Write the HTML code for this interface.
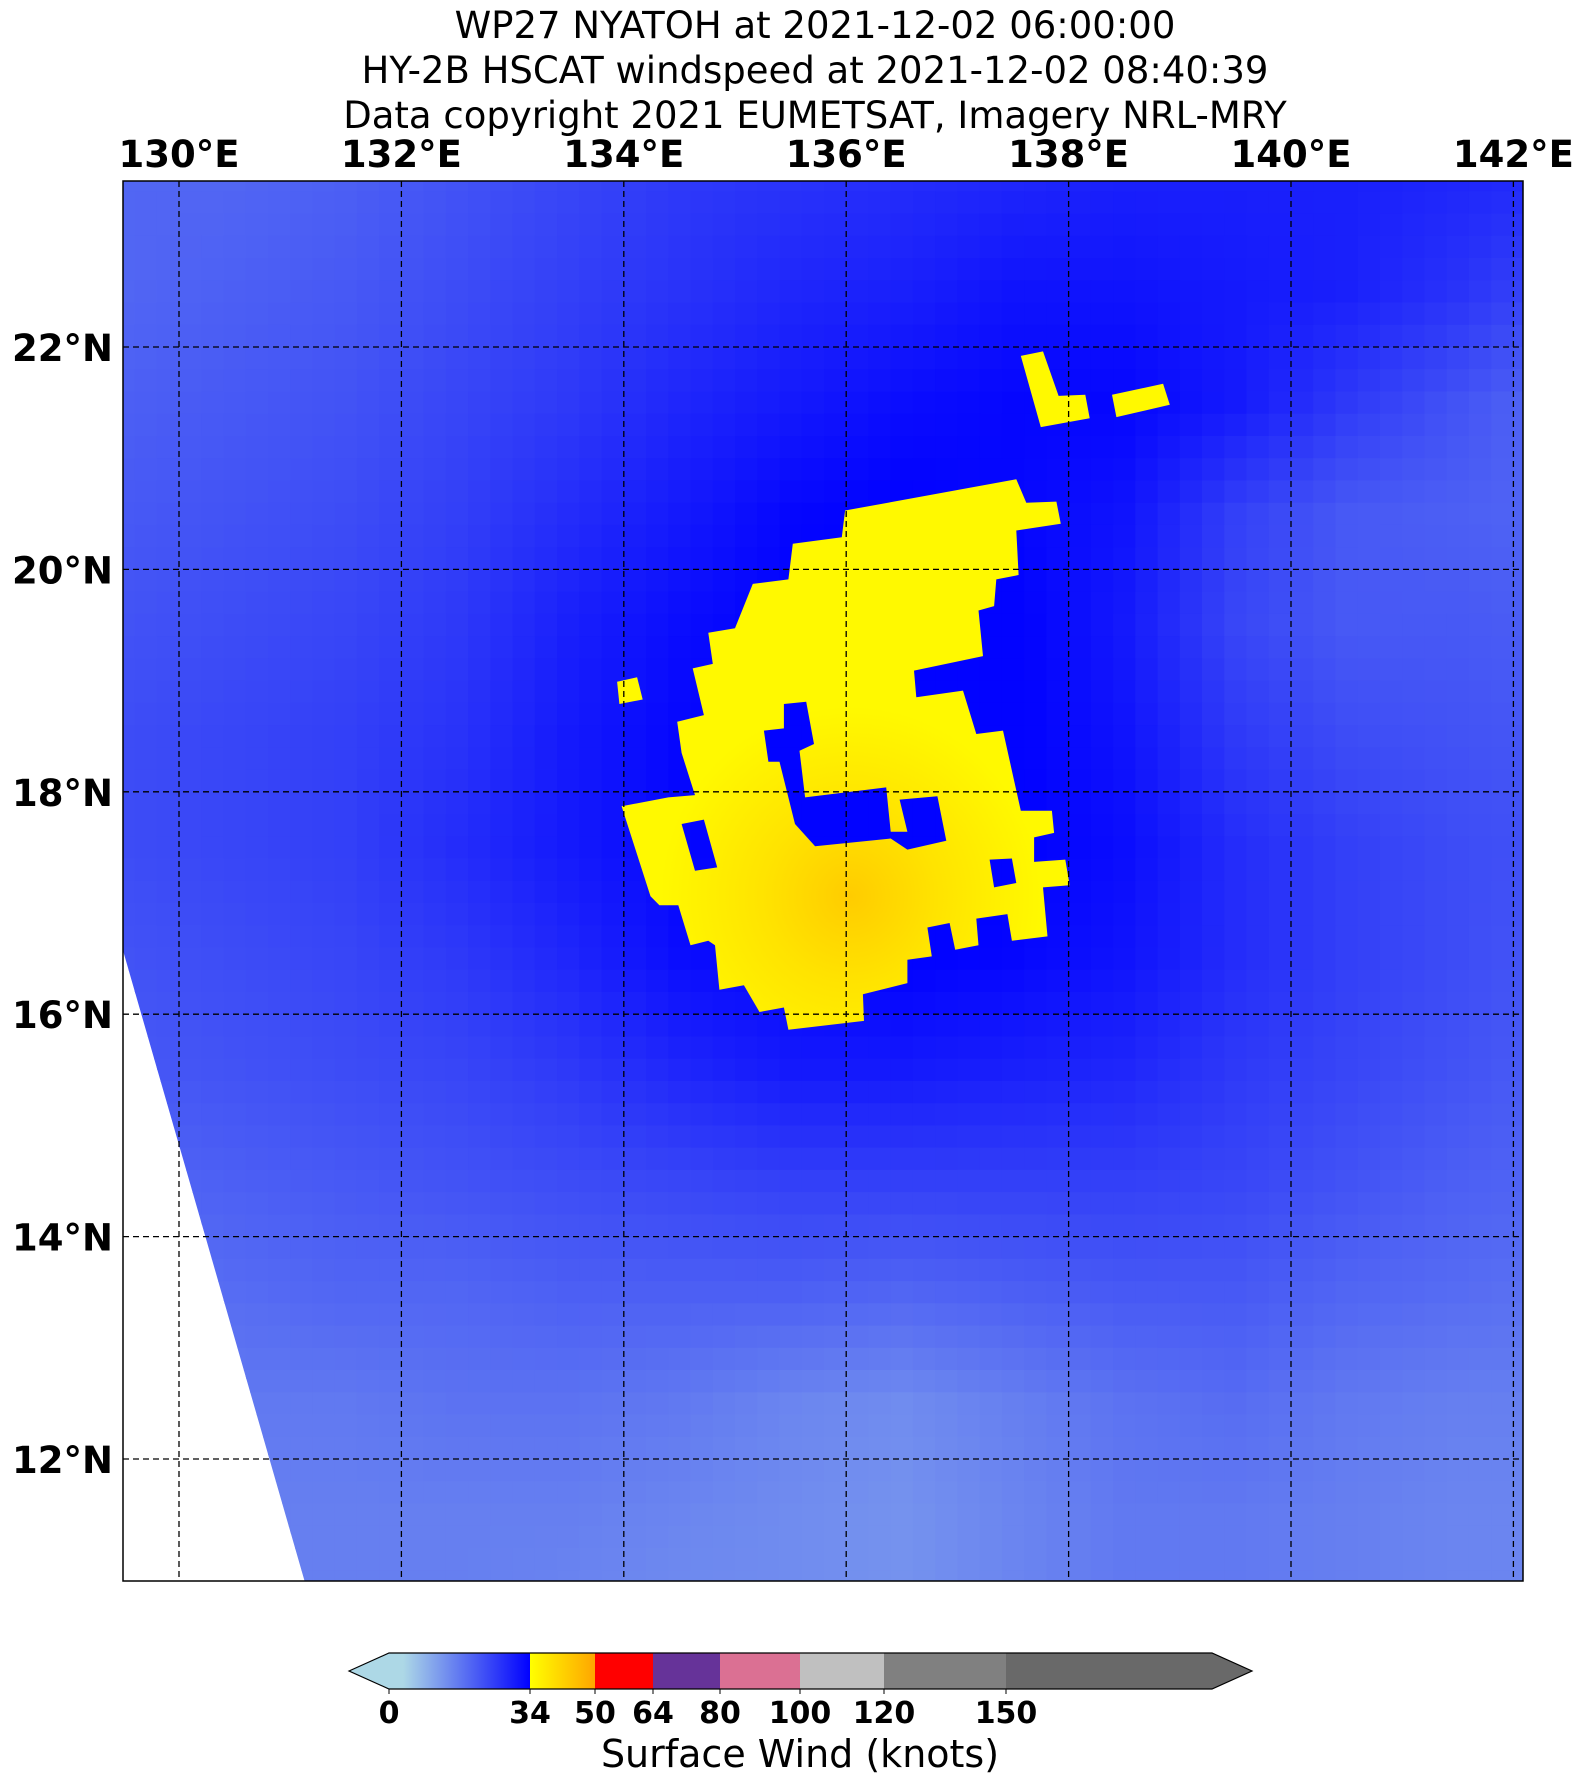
<!DOCTYPE html>
<html><head><meta charset="utf-8">
<style>
html,body{margin:0;padding:0;background:#fff;}
body{width:1585px;height:1784px;overflow:hidden;font-family:"DejaVu Sans","Liberation Sans",sans-serif;}
svg text{font-family:"DejaVu Sans","Liberation Sans",sans-serif;}
</style></head>
<body>
<svg id="chart" width="1585" height="1784" viewBox="0 0 1585 1784" xmlns="http://www.w3.org/2000/svg">
  <g font-size="37" text-anchor="middle" fill="#000">
    <text x="815" y="38">WP27 NYATOH at 2021-12-02 06:00:00</text>
    <text x="815" y="83">HY-2B HSCAT windspeed at 2021-12-02 08:40:39</text>
    <text x="815" y="128">Data copyright 2021 EUMETSAT, Imagery NRL-MRY</text>
  </g>
  <defs>
    <clipPath id="plotClip"><rect x="123" y="181" width="1400" height="1400"/></clipPath>
  </defs>
  <g id="field" clip-path="url(#plotClip)"></g>
  <g id="grid"></g>
  <rect x="123" y="181" width="1400" height="1400" fill="none" stroke="#000" stroke-width="1.5"/>
  <g id="xlabels" font-size="37" font-weight="bold" text-anchor="middle"></g>
  <g id="ylabels" font-size="37" font-weight="bold" text-anchor="end"></g>
  <g id="colorbar"></g>
  <text x="800" y="1767" font-size="38" text-anchor="middle">Surface Wind (knots)</text>
</svg>
<script>
// ---- data ----
const lonTicks = [130,132,134,136,138,140,142];
const latTicks = [12,14,16,18,20,22];
const gridLons = [129.5,130.5,131.5,132.5,133.5,134.5,135.5,136.5,137.5,138.5,139.5,140.5,141.5,142.5];
const gridLats = [23.5,22.5,21.5,20.5,19.5,18.5,17.5,16.5,15.5,14.5,13.5,12.5,11.5,10.5];
const windGrid = [
 [18,18,19,21,23,25,26,27,28,29,29,29,28,27],
 [18,19,20,22,24,26,28,29,31,31,30,29,26,22],
 [19,20,21,23,25,28,30,32,33,33,30,25,21,17],
 [20,21,22,24,27,30,33,34,33,31,24,20,19,18],
 [21,22,23,25,29,32,34,34,34,30,23,20,20,19],
 [22,23,24,26,30,33,34,34,34,31,25,22,21,20],
 [22,23,24,27,30,33,34,34,34,32,27,24,22,21],
 [21,22,23,25,28,32,33,34,33,31,27,24,22,20],
 [20,21,22,23,25,28,30,30,29,28,25,23,21,19],
 [18,19,20,21,22,23,24,24,24,24,23,21,19,18],
 [16,17,18,18,19,19,19,18,19,20,20,18,17,16],
 [15,15,15,16,16,15,13,12,14,16,17,15,14,14],
 [14,14,14,14,14,13,12,11,13,15,15,14,13,13],
 [14,14,14,14,13,12,12,11,13,15,15,14,13,13]
];
const swathEdge = [[129.5,16.56],[131.13,10.9]];
const galeMain = [[135.99,20.53],[137.53,20.81],[137.62,20.60],[137.89,20.61],[137.93,20.41],[137.53,20.35],[137.55,19.95],[137.35,19.91],[137.33,19.67],[137.19,19.63],[137.23,19.22],[136.61,19.09],[136.63,18.85],[137.05,18.91],[137.17,18.52],[137.41,18.55],[137.49,18.19],[137.57,17.83],[137.85,17.83],[137.87,17.63],[137.69,17.59],[137.69,17.37],[137.97,17.39],[138.01,17.16],[137.77,17.14],[137.81,16.70],[137.49,16.66],[137.45,16.90],[137.17,16.86],[137.19,16.62],[136.98,16.58],[136.93,16.82],[136.73,16.78],[136.77,16.52],[136.55,16.49],[136.55,16.28],[136.15,16.18],[136.16,15.94],[135.48,15.86],[135.44,16.06],[135.22,16.02],[135.08,16.26],[134.86,16.22],[134.82,16.62],[134.76,16.66],[134.60,16.62],[134.49,16.98],[134.32,16.98],[134.24,17.06],[133.98,17.87],[134.40,17.95],[134.64,17.97],[134.52,18.35],[134.48,18.63],[134.72,18.69],[134.62,19.11],[134.80,19.15],[134.76,19.43],[135.00,19.47],[135.16,19.87],[135.48,19.91],[135.52,20.23],[135.96,20.29]];
const holeCenter = [[135.26,18.55],[135.44,18.57],[135.44,18.79],[135.64,18.81],[135.71,18.43],[135.58,18.37],[135.63,17.95],[136.36,18.04],[136.40,17.64],[136.55,17.64],[136.48,17.93],[136.82,17.96],[136.90,17.56],[136.55,17.48],[136.40,17.58],[135.72,17.51],[135.54,17.71],[135.40,18.27],[135.30,18.27]];
const holeLeft = [[134.52,17.71],[134.72,17.75],[134.84,17.32],[134.64,17.29]];
const holeRight = [[137.29,17.39],[137.49,17.40],[137.53,17.18],[137.33,17.14]];
const blobWest = [[133.94,18.99],[134.12,19.03],[134.17,18.83],[133.96,18.79]];
const blobNorthL = [[137.57,21.92],[137.77,21.96],[137.91,21.56],[138.15,21.57],[138.19,21.36],[137.75,21.28]];
const blobNorthBar = [[138.39,21.57],[138.85,21.67],[138.91,21.48],[138.43,21.37]];
const coreCenter = [136.04,17.06];
const coreValue = 43;
const edgeValue = 35;
const cbBounds = [0,34,50,64,80,100,120,150];
const cbLabels = ["0","34","50","64","80","100","120","150"];

// ---- scales ----
const NS='http://www.w3.org/2000/svg';
function xOf(lon){return 179+(lon-130)*111.2;}
function yOf(lat){return 1459-(lat-12)*111.2;}
function mk(tag,attrs,parent){const e=document.createElementNS(NS,tag);for(const k in attrs)e.setAttribute(k,attrs[k]);parent.appendChild(e);return e;}
function lerp(a,b,t){return a+(b-a)*t;}
function windColor(v){
  if(v<34){const t=Math.max(0,v)/34;return `rgb(${Math.round(lerp(173,0,t))},${Math.round(lerp(216,0,t))},${Math.round(lerp(230,255,t))})`;}
  if(v<50){const t=(v-34)/16;return `rgb(255,${Math.round(lerp(255,165,t))},0)`;}
  return '#ff0000';
}
function sample(lon,lat){
  let fi=(lon-gridLons[0]); let fj=(gridLats[0]-lat);
  fi=Math.max(0,Math.min(gridLons.length-1.001,fi)); fj=Math.max(0,Math.min(gridLats.length-1.001,fj));
  const i=Math.floor(fi),j=Math.floor(fj),ti=fi-i,tj=fj-j;
  const a=lerp(windGrid[j][i],windGrid[j][i+1],ti), b=lerp(windGrid[j+1][i],windGrid[j+1][i+1],ti);
  return Math.min(33.6,lerp(a,b,tj));
}
function pts(arr){return arr.map(p=>xOf(p[0]).toFixed(1)+','+yOf(p[1]).toFixed(1)).join(' ');}

// ---- field ----
const field=document.getElementById('field');
const defsEl=document.querySelector('defs');
const sw=mk('clipPath',{id:'swathClip'},defsEl);
const e0=swathEdge[0], e1=swathEdge[1];
mk('polygon',{points:`${xOf(e0[0])},${yOf(e0[1])} ${xOf(e1[0])},${yOf(e1[1])} 1530,1590 1530,170 100,170 100,${yOf(e0[1])}`},sw);
const fg=mk('g',{'clip-path':'url(#swathClip)'},field);


const step=0.2;
for(let lat=23.6;lat>10.7;lat-=step){
  for(let lon=129.4;lon<142.7;lon+=step){
    const v=sample(lon+step/2,lat-step/2);
    const r=mk('rect',{x:xOf(lon).toFixed(1),y:yOf(lat).toFixed(1),width:(step*111.2+0.8).toFixed(1),height:(step*111.2+0.8).toFixed(1),fill:windColor(v)},fg);
    
    
  }
}
// gale-force region with gradient
const rg=mk('radialGradient',{id:'coreGrad',gradientUnits:'userSpaceOnUse',cx:xOf(coreCenter[0]),cy:yOf(coreCenter[1]),r:190},defsEl);
mk('stop',{offset:'0','stop-color':windColor(coreValue)},rg);
mk('stop',{offset:'0.45','stop-color':windColor((coreValue+edgeValue)/2)},rg);
mk('stop',{offset:'1','stop-color':windColor(edgeValue)},rg);
const galePath='M'+pts(galeMain)+'Z M'+pts(holeCenter)+'Z M'+pts(holeLeft)+'Z M'+pts(holeRight)+'Z';
const gp=mk('path',{d:galePath.replace(/ /g,' L').replace(/Z L/g,'Z '),'fill-rule':'evenodd',fill:'url(#coreGrad)'},field);


[[blobWest,'gale-patch-west'],[blobNorthL,'gale-patch-north'],[blobNorthBar,'gale-patch-northeast']].forEach(([b,n])=>{
  const p=mk('polygon',{points:pts(b),fill:windColor(edgeValue)},field);
  
  
});

// ---- grid & labels ----
const gridG=document.getElementById('grid');
lonTicks.forEach(l=>{
  const ln=mk('line',{x1:xOf(l),x2:xOf(l),y1:181,y2:1581,stroke:'#000','stroke-width':1.3,'stroke-dasharray':'6,4'},gridG);
  
  
  const t=mk('text',{x:xOf(l),y:167},document.getElementById('xlabels'));t.textContent=l+'°E';
  
  
});
latTicks.forEach(l=>{
  const ln=mk('line',{x1:123,x2:1523,y1:yOf(l),y2:yOf(l),stroke:'#000','stroke-width':1.3,'stroke-dasharray':'6,4'},gridG);
  
  
  const t=mk('text',{x:113,y:yOf(l)+14},document.getElementById('ylabels'));t.textContent=l+'°N';
  
  
});

// ---- colorbar ----
const cb=document.getElementById('colorbar');
const cbX=[389,530,595,653,720,800,884,1006,1212];
const segColors=[null,null,'#ff0000','#663399','#db7093','#c0c0c0','#808080','#696969'];
const cbTop=1653,cbBot=1689,cbMid=1671;
const lg=mk('linearGradient',{id:'cbBlue',x1:0,x2:1,y1:0,y2:0},defsEl);
mk('stop',{offset:'0','stop-color':'#add8e6'},lg);mk('stop',{offset:'0.1','stop-color':'#add8e6'},lg);mk('stop',{offset:'1','stop-color':'#0000ff'},lg);
const lg2=mk('linearGradient',{id:'cbYel',x1:0,x2:1,y1:0,y2:0},defsEl);
mk('stop',{offset:'0','stop-color':'#ffff00'},lg2);mk('stop',{offset:'1','stop-color':'#ffa500'},lg2);
const lt=mk('polygon',{points:`349,${cbMid} ${cbX[0]},${cbTop} ${cbX[0]},${cbBot}`,fill:'#add8e6'},cb);


const rt=mk('polygon',{points:`${cbX[8]},${cbTop} 1252,${cbMid} ${cbX[8]},${cbBot}`,fill:'#696969'},cb);


for(let i=0;i<8;i++){
  const f=i===0?'url(#cbBlue)':i===1?'url(#cbYel)':segColors[i];
  const r=mk('rect',{x:cbX[i],y:cbTop,width:cbX[i+1]-cbX[i]+0.5,height:cbBot-cbTop,fill:f},cb);
  
  
}
mk('polygon',{points:`349,${cbMid} ${cbX[0]},${cbTop} ${cbX[8]},${cbTop} 1252,${cbMid} ${cbX[8]},${cbBot} ${cbX[0]},${cbBot}`,fill:'none',stroke:'#000','stroke-width':1.2},cb);
cbBounds.forEach((b,i)=>{
  mk('line',{x1:cbX[i],x2:cbX[i],y1:cbBot,y2:cbBot+5,stroke:'#000','stroke-width':1},cb);
  const t=mk('text',{x:cbX[i],y:1723,'font-size':30,'font-weight':'bold','text-anchor':'middle'},cb);
  t.textContent=cbLabels[i];
  
  
});
</script>
</body></html>
